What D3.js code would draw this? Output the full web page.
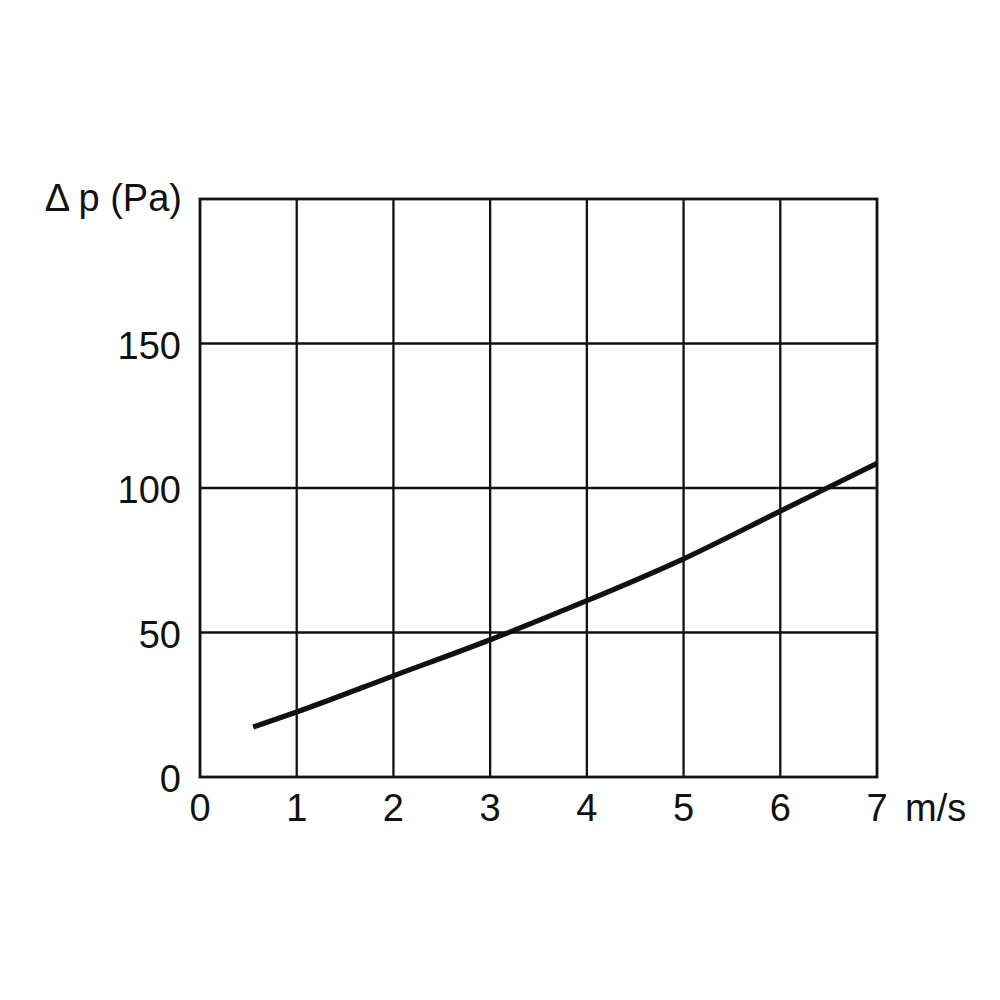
<!DOCTYPE html>
<html>
<head>
<meta charset="utf-8">
<script src="https://cdn.jsdelivr.net/npm/d3@7"></script>
<style>
  html, body { margin: 0; padding: 0; background: #fff; }
  text { font-family: "Liberation Sans", Arial, Helvetica, sans-serif; fill: #111; }
</style>
</head>
<body>
<svg id="chart" width="1000" height="1000"></svg>
<script>
// Data
const xTicks = [0, 1, 2, 3, 4, 5, 6, 7];
const yTicks = [0, 50, 100, 150];
const yGrid = [0, 50, 100, 150, 200];
const velocity = [0.55, 1, 2, 3, 4, 5, 6, 7];
const pressureDrop = [17.3, 22.5, 35, 47.5, 61, 75.5, 92, 108.5];
const xUnit = "m/s";
const yTitle = "\u0394 p (Pa)";

const margin = { left: 200, right: 123, top: 199, bottom: 223 };
const W = 1000, H = 1000;
const svg = d3.select("#chart");

const x = d3.scaleLinear().domain([0, 7]).range([margin.left, W - margin.right]);
const y = d3.scaleLinear().domain([0, 200]).range([H - margin.bottom, margin.top]);

const ink = "#111";
const fs = 38;

// Grid
const g = svg.append("g");
g.selectAll("line.v").data(xTicks.slice(1, -1)).join("line")
  .attr("x1", d => x(d)).attr("x2", d => x(d))
  .attr("y1", y(0)).attr("y2", y(200))
  .attr("stroke", ink).attr("stroke-width", 2.3);
g.selectAll("line.h").data(yGrid.slice(1, -1)).join("line")
  .attr("y1", d => y(d)).attr("y2", d => y(d))
  .attr("x1", x(0)).attr("x2", x(7))
  .attr("stroke", ink).attr("stroke-width", 2.3);

// Frame
g.append("rect")
  .attr("x", x(0)).attr("y", y(200))
  .attr("width", x(7) - x(0)).attr("height", y(0) - y(200))
  .attr("fill", "none").attr("stroke", ink).attr("stroke-width", 2.8);

// Curve
const line = d3.line()
  .x((d, i) => x(velocity[i]))
  .y(d => y(d))
  .curve(d3.curveMonotoneX);
svg.append("path")
  .datum(pressureDrop)
  .attr("d", line)
  .attr("fill", "none")
  .attr("stroke", ink)
  .attr("stroke-width", 5.2)
  .attr("stroke-linecap", "butt");

// Y tick labels
svg.selectAll("text.yl").data(yTicks).join("text")
  .attr("x", 181).attr("y", d => y(d))
  .attr("dy", "0.4em")
  .attr("text-anchor", "end")
  .attr("font-size", fs)
  .text(d => d);

// X tick labels
svg.selectAll("text.xl").data(xTicks).join("text")
  .attr("x", d => x(d)).attr("y", y(0) + 44)
  .attr("text-anchor", "middle")
  .attr("font-size", fs)
  .text(d => d);

// X unit
svg.append("text")
  .attr("x", x(7) + 28).attr("y", y(0) + 44)
  .attr("text-anchor", "start")
  .attr("font-size", fs)
  .text(xUnit);

// Y title
svg.append("text")
  .attr("x", 182).attr("y", y(200) + 12)
  .attr("text-anchor", "end")
  .attr("font-size", fs)
  .text(yTitle);
</script>
</body>
</html>
